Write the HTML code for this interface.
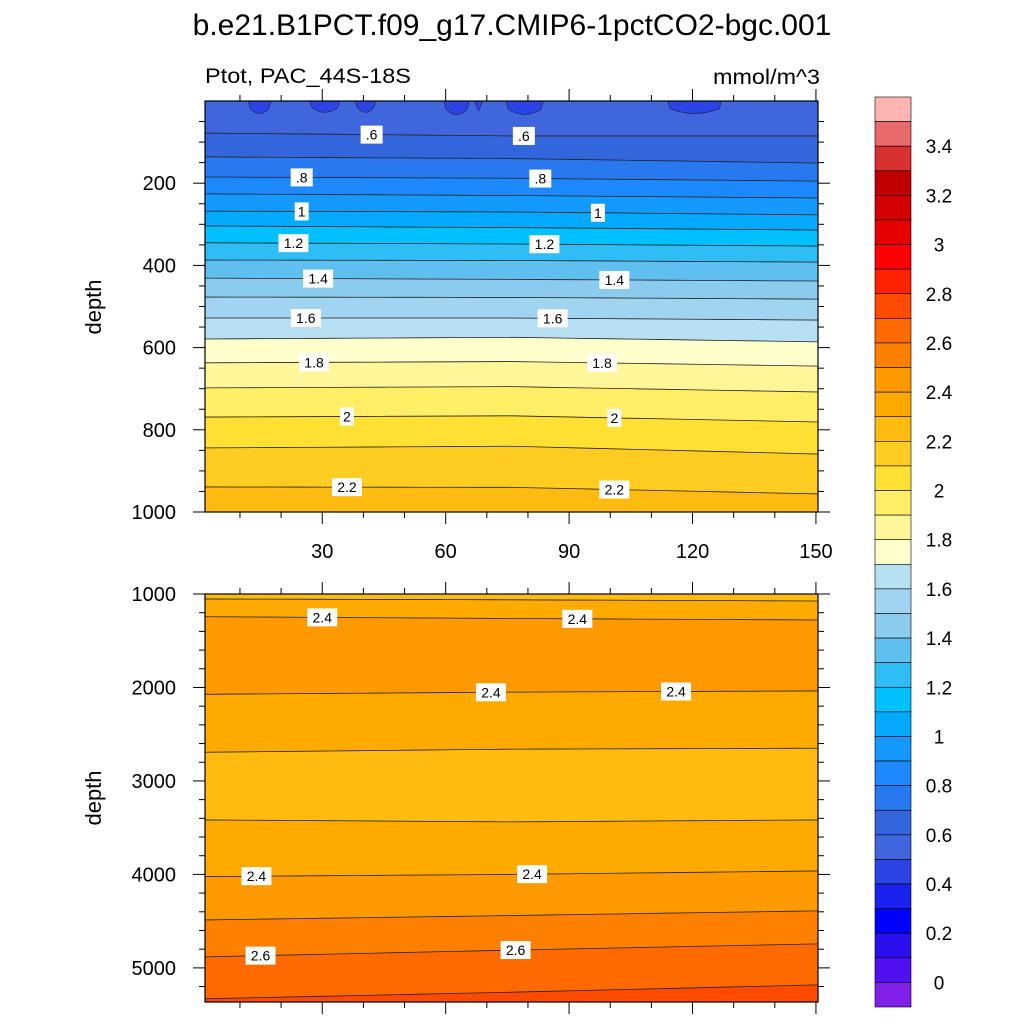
<!DOCTYPE html>
<html><head><meta charset="utf-8"><style>
html,body{margin:0;padding:0;background:#fff;}
svg{display:block;font-family:"Liberation Sans",sans-serif;}
</style></head><body>
<svg id="chart" width="1024" height="1024" viewBox="0 0 1024 1024" xmlns="http://www.w3.org/2000/svg">
<text x="512" y="35" font-size="30" text-anchor="middle">b.e21.B1PCT.f09_g17.CMIP6-1pctCO2-bgc.001</text>
<text x="205" y="83" font-size="21" textLength="206" lengthAdjust="spacingAndGlyphs">Ptot, PAC_44S-18S</text>
<text x="713" y="84" font-size="21" textLength="107" lengthAdjust="spacingAndGlyphs">mmol/m^3</text>
<text transform="translate(101,307) rotate(-90)" font-size="22" text-anchor="middle">depth</text>
<text transform="translate(101,798) rotate(-90)" font-size="22" text-anchor="middle">depth</text>
<g id="top"></g><g id="bot"></g><g id="cbar"></g>
</svg>
<script>
// colour bar, top -> bottom
const colors = ["#ffb3b3","#e86a6a","#d93030","#c00000","#d40000","#e60000","#ff0000","#ff2200","#ff4a00","#ff6a00","#ff8000","#ff9900","#ffaa00","#ffbb10","#ffcc22","#ffe033","#ffee66","#fff599","#ffffcc","#b8e0f3","#a0d4f0","#8acbee","#5fc0f0","#2ebdf5","#00c0ff","#05aaff","#1499ff","#1e88ff","#2878f0","#3366dd","#4066dd","#2a44e6","#1a22f0","#0000ff","#2a10ee","#5010f0","#8020e8"];
const cbarLabels = ["3.4","3.2","3","2.8","2.6","2.4","2.2","2","1.8","1.6","1.4","1.2","1","0.8","0.6","0.4","0.2","0"];
// top panel contours (level, depth at left / middle / right)
const topLevels = [0.6,0.7,0.8,0.9,1.0,1.1,1.2,1.3,1.4,1.5,1.6,1.7,1.8,1.9,2.0,2.1,2.2];
const topLeft  = [78,136,185,226,268,304,345,387,431,477,528,579,637,698,769,844,939];
const topMid   = [85,140,188,230,270,308,348,388,434,478,528,575,634,695,766,840,940];
const topRight = [85,151,195,236,277,314,353,392,438,482,533,586,645,708,781,859,956];
const topLabelText = [".6",".6",".8",".8","1","1","1.2","1.2","1.4","1.4","1.6","1.6","1.8","1.8","2","2","2.2","2.2"];
const topLabelLine = [0,0,2,2,4,4,6,6,8,8,10,10,12,12,14,14,16,16];
const topLabelYear = [42,79,25,83,25,97,23,84,29,101,26,86,28,98,36,101,36,101];
// surface blobs (0.4-0.5 band)
const blobStart = [12,27,38,59.6,67,74.7,114];
const blobEnd   = [17.5,34.3,43,65.7,69,83.7,127];
const blobDepth = [33,30,30,35,25,35,33];
// bottom panel contours
const botLevels = [2.3,2.4,2.4,2.3,2.3,2.4,2.5,2.6,2.7];
const botBelow  = [2.3,2.4,2.3,2.2,2.3,2.4,2.5,2.6,2.7];
const botLeft   = [1053,1243,2073,2693,3417,4023,4487,4882,5331];
const botMid    = [1062,1262,2050,2660,3438,4000,4440,4810,5260];
const botRight  = [1075,1278,2037,2650,3417,3963,4390,4743,5182];
const botLabelText = ["2.4","2.4","2.4","2.4","2.4","2.4","2.6","2.6"];
const botLabelLine = [1,1,2,2,5,5,7,7];
const botLabelYear = [30,92,71,116,14,81,15,77];

const NS="http://www.w3.org/2000/svg";
function mk(tag,attrs,parent){const e=document.createElementNS(NS,tag);for(const k in attrs)e.setAttribute(k,attrs[k]);parent.appendChild(e);return e;}
function colorFor(v){const i=Math.round(v*10)+1;return colors[36-i];}
const X0=1.5,X1=150.5,PL=205,PR=818;
const xs=v=>PL+(v-X0)/(X1-X0)*(PR-PL);
function depthAt(l,m,r,yr){const t=(yr-X0)/(X1-X0);return t<0.5? l+(m-l)*t*2 : m+(r-m)*(t-0.5)*2;}

function panel(g,name,D0,D1,PT,PB,base,lvL,lvM,lvR,below,labT,labL,labY,yticks,ymin,minorStep,xlabels){
  const ys=d=>PT+(d-D0)/(D1-D0)*(PB-PT);
  mk('rect',{x:PL,y:PT,width:PR-PL,height:PB-PT,fill:colorFor(base),},g);
  const clip=mk('clipPath',{id:name+'clip'},g);mk('rect',{x:PL,y:PT,width:PR-PL,height:PB-PT},clip);
  const cg=mk('g',{'clip-path':'url(#'+name+'clip)'},g);
  const lines=[];
  for(let i=0;i<lvL.length;i++){
    const pts=[];
    for(let k=0;k<=20;k++){const yr=X0+(X1-X0)*k/20;pts.push([xs(yr),ys(depthAt(lvL[i],lvM[i],lvR[i],yr))]);}
    lines.push(pts);
    const p=mk('path',{d:'M'+pts.map(q=>q.join(',')).join('L')+'L'+PR+','+(PB+5)+'L'+PL+','+(PB+5)+'Z',fill:colorFor(below[i])},cg);
    
    
  }
  if(name==='top'){
    for(let b=0;b<blobStart.length;b++){
      const x1=xs(blobStart[b]),x2=xs(blobEnd[b]),yb=ys(blobDepth[b]);
      const bl=mk('path',{d:`M${x1},${PT}L${x1+2},${yb-6}Q${(x1+x2)/2},${yb+4} ${x2-2},${yb-6}L${x2},${PT}Z`,fill:colors[31],stroke:'#223',"stroke-width":0.6},cg);
      
      
    }
  }
  lines.forEach((pts,i)=>{
    const l=mk('path',{d:'M'+pts.map(q=>q.join(',')).join('L'),fill:'none',stroke:'#222','stroke-width':0.8},cg);
    
    
  });
  for(let j=0;j<labT.length;j++){
    const i=labL[j],yr=labY[j];
    const cx=xs(yr),cy=ys(depthAt(lvL[i],lvM[i],lvR[i],yr));
    const w=labT[j].length*8+6;
    const r=mk('rect',{x:cx-w/2,y:cy-9,width:w,height:18,fill:'#fff'},g);
    
    
    const t=mk('text',{x:cx,y:cy+5,'font-size':14,'text-anchor':'middle'},g);
    t.textContent=labT[j];
    
    
  }
  mk('rect',{x:PL,y:PT,width:PR-PL,height:PB-PT,fill:'none',stroke:'#000','stroke-width':1.2,},g);
  // x ticks
  for(let v=10;v<=150;v+=10){
    const x=xs(v),maj=v%30===0,len=maj?12:6;
    mk('line',{x1:x,y1:PT,x2:x,y2:PT-len,stroke:'#000','stroke-width':1},g);
    mk('line',{x1:x,y1:PB,x2:x,y2:PB+len,stroke:'#000','stroke-width':1},g);
    if(maj&&xlabels){const t=mk('text',{x:x,y:PB+46,'font-size':20,'text-anchor':'middle'},g);t.textContent=v;
      }
  }
  // y ticks
  for(let d=ymin;d<=D1;d+=minorStep){
    const y=ys(d),maj=yticks.includes(d),len=maj?12:6;
    mk('line',{x1:PL,y1:y,x2:PL-len,y2:y,stroke:'#000','stroke-width':1},g);
    mk('line',{x1:PR,y1:y,x2:PR+len,y2:y,stroke:'#000','stroke-width':1},g);
    if(maj){const t=mk('text',{x:PL-29,y:y+7,'font-size':20,'text-anchor':'end'},g);t.textContent=d;
      }
  }
}
panel(document.getElementById('top'),'top',0,1000,101,512,0.5,topLeft,topMid,topRight,topLevels,topLabelText,topLabelLine,topLabelYear,[200,400,600,800,1000],50,50,true);
panel(document.getElementById('bot'),'bottom',1000,5365,594,1002,2.2,botLeft,botMid,botRight,botBelow,botLabelText,botLabelLine,botLabelYear,[1000,2000,3000,4000,5000],1000,200,false);
// colour bar
const cb=document.getElementById('cbar');
const CT=97,CB=1007,CX=875,CW=36,bh=(CB-CT)/colors.length;
colors.forEach((c,i)=>{
  const r=mk('rect',{x:CX,y:CT+i*bh,width:CW,height:bh,fill:c,stroke:'#000','stroke-width':0.6},cb);
  
  
});
cbarLabels.forEach((s,k)=>{
  const y=CT+(2+2*k)*bh;
  const t=mk('text',{x:939,y:y+7,'font-size':19,'text-anchor':'middle'},cb);
  t.textContent=s;
  
  
});
</script>
</body></html>
